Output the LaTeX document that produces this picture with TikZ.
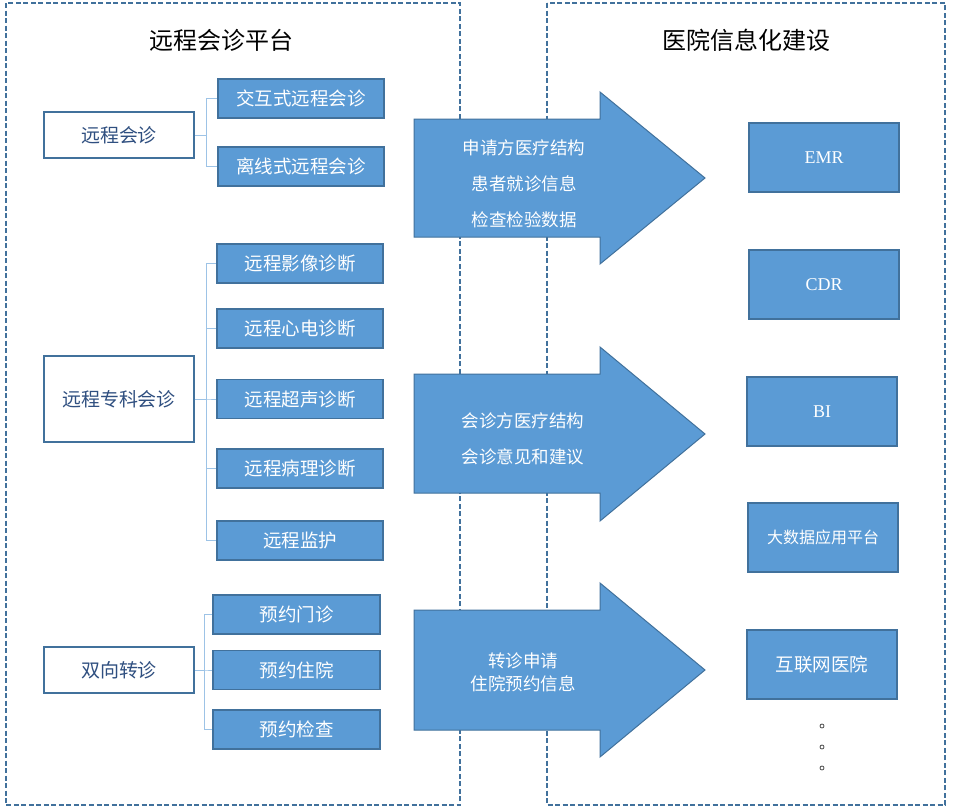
\documentclass[tikz,border=0pt]{standalone}
\usepackage{fontspec}
\setmainfont{Noto Sans CJK SC}
\newfontfamily\latinserif{Liberation Serif}
\definecolor{boxfill}{HTML}{5B9BD5}
\definecolor{boxline}{HTML}{41719C}
\definecolor{treeline}{HTML}{9DC3E6}
\definecolor{parenttext}{HTML}{2F4F80}
\begin{document}
\begin{tikzpicture}[x=1pt,y=-1pt,
  framebox/.style={draw=boxline, line width=1.4pt, dash pattern=on 5pt off 2.5pt},
  parentbox/.style={draw=boxline, line width=1.6pt, fill=white, text=parenttext,
    minimum width=150pt, inner sep=0pt, font=\fontsize{19}{23}\selectfont},
  childbox/.style={draw=boxline, line width=1.6pt, fill=boxfill, text=white,
    minimum width=166pt, minimum height=39pt, inner sep=0pt, font=\fontsize{18.5}{22}\selectfont},
  rightbox/.style={draw=boxline, line width=1.6pt, fill=boxfill, text=white,
    minimum width=150pt, minimum height=69pt, inner sep=0pt, font=\fontsize{18}{22}\selectfont},
  arrowshape/.style={draw=boxline, line width=1pt, fill=boxfill},
  arrowtext/.style={text=white, align=center, inner sep=0pt},
  tree/.style={draw=treeline, line width=1pt},
  title/.style={font=\fontsize{24}{28}\selectfont, text=black, inner sep=0pt},
  dotmark/.style={circle, draw=black!70, line width=0.8pt, fill=white, inner sep=0pt, minimum size=4pt}
]
\useasboundingbox (0,0) rectangle (954,811);
\fill[white] (0,0) rectangle (954,811);

% frames
\draw[framebox] (6,3) rectangle (460,805);
\draw[framebox] (547,3) rectangle (945,805);

% titles
\node[title] (t1) at (221,40) {远程会诊平台};
\node[title] (t2) at (746,40) {医院信息化建设};

% group 1
\node[parentbox, minimum height=46pt] (p1) at (119,135) {远程会诊};
\node[childbox] (c11) at (301,98.5) {交互式远程会诊};
\node[childbox] (c12) at (301,166.5) {离线式远程会诊};

% group 2
\node[parentbox, minimum height=86pt] (p2) at (119,399) {远程专科会诊};
\node[childbox] (c21) at (300,263.5) {远程影像诊断};
\node[childbox] (c22) at (300,328.5) {远程心电诊断};
\node[childbox] (c23) at (300,399) {远程超声诊断};
\node[childbox] (c24) at (300,468.5) {远程病理诊断};
\node[childbox] (c25) at (300,540.5) {远程监护};

% group 3
\node[parentbox, minimum height=46pt] (p3) at (119,670) {双向转诊};
\node[childbox, minimum width=167pt] (c31) at (296.5,614.5) {预约门诊};
\node[childbox, minimum width=167pt] (c32) at (296.5,670) {预约住院};
\node[childbox, minimum width=167pt] (c33) at (296.5,729.5) {预约检查};

% tree connectors
\foreach \c in {c11,c12} \draw[tree] (p1.east) -- ++(12,0) |- (\c.west);
\foreach \c in {c21,c22,c23,c24,c25} \draw[tree] (p2.east) -- ++(12,0) |- (\c.west);
\foreach \c in {c31,c32,c33} \draw[tree] (p3.east) -- ++(10,0) |- (\c.west);

% arrows
\draw[arrowshape] (414,119) -- (600,119) -- (600,92) -- (705,178) -- (600,264) -- (600,237) -- (414,237) -- cycle;
\node[arrowtext, font=\fontsize{17.5}{36}\selectfont] (a1) at (524,184) {申请方医疗结构\\患者就诊信息\\检查检验数据};

\draw[arrowshape] (414,374) -- (600,374) -- (600,347) -- (705,434) -- (600,521) -- (600,493) -- (414,493) -- cycle;
\node[arrowtext, font=\fontsize{17.5}{36}\selectfont] (a2) at (523,439) {会诊方医疗结构\\会诊意见和建议};

\draw[arrowshape] (414,610) -- (600,610) -- (600,583) -- (705,670) -- (600,757) -- (600,730) -- (414,730) -- cycle;
\node[arrowtext, font=\fontsize{17.5}{23}\selectfont] (a3) at (523,672.5) {转诊申请\\住院预约信息};

% right boxes
\node[rightbox, font=\latinserif\fontsize{18}{22}\selectfont] (r1) at (824,157.5) {EMR};
\node[rightbox, font=\latinserif\fontsize{18}{22}\selectfont] (r2) at (824,284.5) {CDR};
\node[rightbox, font=\latinserif\fontsize{18}{22}\selectfont] (r3) at (822,411.5) {BI};
\node[rightbox, font=\fontsize{16}{20}\selectfont] (r4) at (823,537.5) {大数据应用平台};
\node[rightbox, font=\fontsize{18.5}{22}\selectfont] (r5) at (822,664.5) {互联网医院};

% dots
\node[dotmark] (d1) at (822,726) {};
\node[dotmark] (d2) at (822,747) {};
\node[dotmark] (d3) at (822,768) {};
\end{tikzpicture}
\end{document}
